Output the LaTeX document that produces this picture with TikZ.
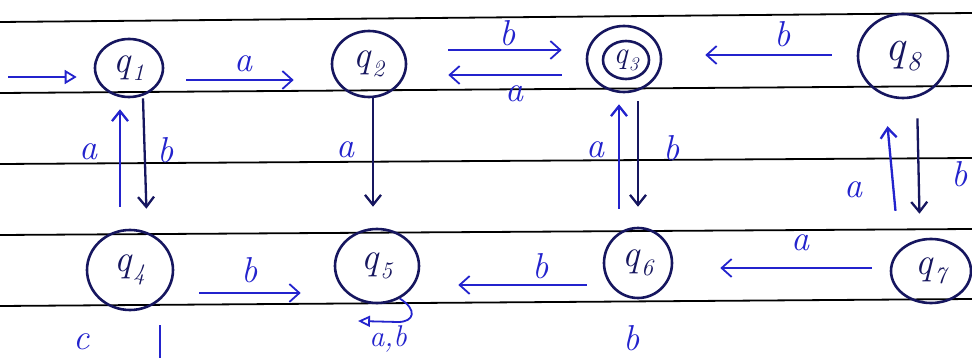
\documentclass[tikz,border=0pt]{standalone}
\usepackage{fontspec}
\usetikzlibrary{arrows.meta,shapes.geometric}
\definecolor{ink}{RGB}{22,22,95}
\definecolor{pen}{RGB}{35,35,205}
\newcommand{\qs}[1]{q\kern0.04em\raisebox{-0.22em}{\fontsize{0.62em}{0.7em}\selectfont #1}}
\tikzset{
  state/.style={draw=ink, line width=2.6pt, ellipse, inner sep=0pt, text=ink,
    font=\fontsize{38}{40}\selectfont\itshape},
  rule/.style={draw=black, line width=1.8pt},
  harrow/.style={draw=pen, line width=1.8pt, -{Straight Barb[length=10pt,width=18pt,line width=1.8pt]}},
  varrow/.style={draw=ink, line width=2.3pt, -{Straight Barb[length=10pt,width=16pt,line width=2.3pt]}},
  lbl/.style={text=pen, font=\fontsize{36}{38}\selectfont\itshape, inner sep=0pt}
}
\begin{document}
\begin{tikzpicture}[x=1pt,y=-1pt]
\useasboundingbox (0,0) rectangle (972,358);
\clip (0,0) rectangle (972,358);
\fill[white] (0,0) rectangle (972,358);
% ruled lines
\draw[rule] (0,22) -- (972,13);
\draw[rule] (0,93) -- (972,86);
\draw[rule] (0,164) -- (972,158);
\draw[rule] (0,235) -- (972,229);
\draw[rule] (0,306) -- (972,299);
% states
\node[state, minimum width=68pt, minimum height=58pt] (q1) at (129,68) {\qs{1}};
\node[state, minimum width=74pt, minimum height=66pt] (q2) at (369,64) {\qs{2}};
\node[state, minimum width=74pt, minimum height=66pt] (q3) at (624,59) {};
\node[state, minimum width=46pt, minimum height=38pt, font=\fontsize{31}{33}\selectfont\itshape] (q3in) at (626,60) {\qs{3}};
\node[state, minimum width=90pt, minimum height=84pt, font=\fontsize{44}{46}\selectfont\itshape] (q8) at (903,56) {\qs{8}};
\node[state, minimum width=86pt, minimum height=80pt] (q4) at (130,270) {\qs{4}};
\node[state, minimum width=84pt, minimum height=74pt] (q5) at (377,266) {\qs{5}};
\node[state, minimum width=68pt, minimum height=70pt] (q6) at (638,263) {\qs{6}};
\node[state, minimum width=80pt, minimum height=64pt] (q7) at (931,271) {\qs{7}};
% start arrow
\coordinate (start) at (8,77);
\draw[draw=pen, line width=1.8pt, -{Triangle[open,length=12pt,width=14pt,line width=1.8pt]}, shorten >=17pt]
  (start) -- ([yshift=-9pt]q1.west);
% horizontal transitions
\draw[harrow, shorten <=22pt, shorten >=37pt] ([yshift=-12pt]q1.east) -- ([yshift=-16pt]q2.west);
\node[lbl] (la12) at (243,64) {a};
\draw[harrow, shorten <=41pt, shorten >=24pt] ([yshift=14pt]q2.east) -- ([yshift=9pt]q3.west);
\node[lbl] (lb23) at (508,33) {b};
\draw[harrow, shorten <=24pt, shorten >=41pt] ([yshift=-16pt]q3.west) -- ([yshift=-11pt]q2.east);
\node[lbl] (la32) at (514,94) {a};
\draw[harrow, shorten <=25pt, shorten >=43pt] ([yshift=1pt]q8.west) -- ([yshift=4pt]q3.east);
\node[lbl] (lb83) at (783,34) {b};
\draw[harrow, shorten <=25pt, shorten >=33pt] ([yshift=-23pt]q4.east) -- ([yshift=-27pt]q5.west);
\node[lbl] (lb45) at (250,270) {b};
\draw[harrow, shorten <=16pt, shorten >=38pt] ([yshift=-22pt]q6.west) -- ([yshift=-19pt]q5.east);
\node[lbl] (lb65) at (541,266) {b};
\draw[harrow, shorten <=18pt, shorten >=47pt] ([yshift=3pt]q7.west) -- ([yshift=-5pt]q6.east);
\node[lbl] (la76) at (800,243) {a};
% vertical transitions
\draw[varrow, shorten >=20pt] ([xshift=14pt]q1.south) -- ([xshift=17pt]q4.north);
\node[lbl] (lb14) at (166,150) {b};
\draw[varrow, draw=pen, shorten <=22pt, shorten >=11pt] ([xshift=-10pt]q4.north) -- ([xshift=-9pt]q1.south);
\node[lbl] (la41) at (88,152) {a};
\draw[varrow, shorten >=21pt] ([xshift=4pt]q2.south) -- ([xshift=-4pt]q5.north);
\node[lbl] (la25) at (345,150) {a};
\draw[varrow, shorten <=8pt, shorten >=20pt] ([xshift=14pt]q3.south) -- (q6.north);
\node[lbl] (lb36) at (672,148) {b};
\draw[varrow, draw=pen, shorten <=18pt, shorten >=11pt] ([xshift=-19pt]q6.north) -- ([xshift=-5pt]q3.south);
\node[lbl] (la63) at (595,150) {a};
\draw[varrow, shorten <=19pt, shorten >=24pt] ([xshift=14pt]q8.south) -- ([xshift=-11pt]q7.north);
\node[lbl] (lb87) at (960,174) {b};
\draw[varrow, draw=pen, shorten <=27pt, shorten >=27pt] ([xshift=-33pt]q7.north) -- ([xshift=-18pt]q8.south);
\node[lbl] (la78) at (853,190) {a};
% self loop on q5
\coordinate (loopend) at (358,321);
\draw[draw=pen, line width=1.8pt, -{Triangle[open,length=12pt,width=11pt,line width=1.8pt]}]
  (q5.-55) .. controls (418,310) and (414,322) .. (398,322) -- (loopend);
\node[lbl, font=\fontsize{30}{32}\selectfont\itshape] (lab5) at (388,339) {a,b};
% cut-off writing of the next line
\node[lbl] (cutc) at (82,342) {c};
\coordinate (cutbar) at (160,325);
\draw[draw=pen, line width=2pt] (cutbar) -- ++(0,40);
\node[lbl] (cutb) at (632,338) {b};
\end{tikzpicture}
\end{document}
